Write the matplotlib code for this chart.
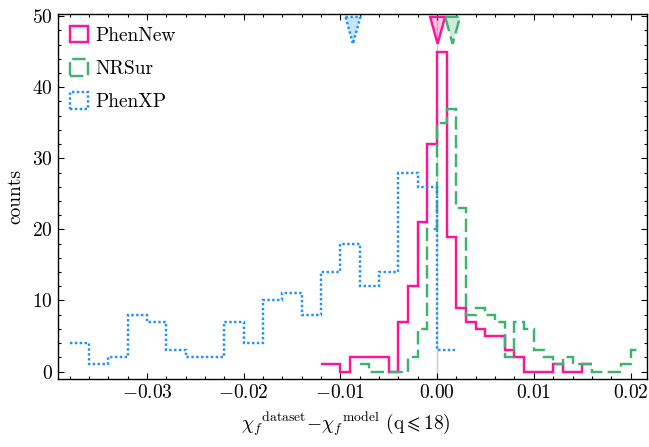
import numpy as np
import matplotlib
matplotlib.use("Agg")
import matplotlib.pyplot as plt
from matplotlib.patches import Patch, Polygon
from matplotlib.ticker import MultipleLocator

plt.rcParams['font.family'] = 'serif'
plt.rcParams['font.serif'] = ['cmr10', 'DejaVu Serif']
plt.rcParams['mathtext.fontset'] = 'cm'
plt.rcParams['axes.formatter.use_mathtext'] = True

# ---- data ----
labels = ["PhenNew", "NRSur", "PhenXP"]
colors = ["#FF1493", "#3CB371", "#1E90FF"]
linestyles = ["-", (0, (5.5, 2.2)), (0, (1, 1))]

phennew_edges = np.round(np.arange(-0.012, 0.0161, 0.001), 4)
phennew_counts = [1, 1, 0, 2, 2, 2, 2, 0, 7, 12, 21, 32, 45, 19, 9, 7, 6, 5, 5, 3, 2,
                  0, 0, 0, 1, 0, 0, 1]

nrsur_edges = np.round(np.arange(-0.008, 0.0211, 0.001), 4)
nrsur_counts = [1, 0, 0, 0, 0, 2, 6, 20, 35, 37, 23, 8, 9, 8, 7, 2, 7, 6, 3, 2, 1, 2,
                1, 1, 0, 0, 0, 1, 3]

phenxp_edges = np.round(np.arange(-0.038, 0.0021, 0.002), 4)
phenxp_counts = [4, 1, 2, 8, 7, 3, 2, 2, 7, 4, 10, 11, 8, 14, 18, 12, 14, 28, 26, 3]

medians = [0.00005, 0.0016, -0.0087]

# ---- figure ----
fig = plt.figure(figsize=(6.49, 4.47), dpi=100)
ax = fig.add_axes([58 / 649, 1 - 378.7 / 447, (647 - 58) / 649, (378.7 - 14) / 447])

ax.axvline(0.0, color="#cccccc", lw=1.0, zorder=0)

series = [(phennew_edges, phennew_counts), (nrsur_edges, nrsur_counts),
          (phenxp_edges, phenxp_counts)]
lw = 1.75
for (edges, counts), c, ls in zip(series, colors, linestyles):
    ax.stairs(counts, edges, baseline=None, color=c, linestyle=ls, lw=lw)

# median markers (triangles at the top)
hw = 0.00077
for m, c, ls in zip(medians, colors, linestyles):
    tri = Polygon([(m - hw, 49.9), (m + hw, 49.9), (m, 46.1)], closed=True,
                  facecolor=matplotlib.colors.to_rgba(c, 0.25), edgecolor=c,
                  linestyle=ls, lw=lw, zorder=5, clip_on=False)
    ax.add_patch(tri)

ax.set_xlim(-0.0392, 0.0217)
ax.set_ylim(-1, 50.3)

ax.xaxis.set_major_locator(MultipleLocator(0.01))
ax.xaxis.set_minor_locator(MultipleLocator(0.002))
ax.yaxis.set_major_locator(MultipleLocator(10))
ax.yaxis.set_minor_locator(MultipleLocator(2))
ax.tick_params(which="both", direction="in", top=True, right=True, labelsize=14)
ax.tick_params(which="major", length=4, width=0.8)
ax.tick_params(which="minor", length=2, width=0.8)
for s in ax.spines.values():
    s.set_linewidth(1.0)

ax.set_ylabel("counts", fontsize=14, labelpad=6)
ax.set_xlabel(r"${\chi_f}^{\rm dataset}{-}{\chi_f}^{\rm model}$ (q$\leqslant$18)",
              fontsize=14, labelpad=6)
ax.xaxis.label.set_x(0.488)

handles = [Patch(facecolor="none", edgecolor=c, linestyle=ls, lw=lw)
           for c, ls in zip(colors, linestyles)]
ax.legend(handles, labels, loc="upper left", frameon=False, fontsize=14,
          handlelength=0.95, handleheight=0.95, handletextpad=0.35,
          labelspacing=0.72, borderaxespad=0.3, borderpad=0.3)

fig.savefig("out.png", dpi=100)
